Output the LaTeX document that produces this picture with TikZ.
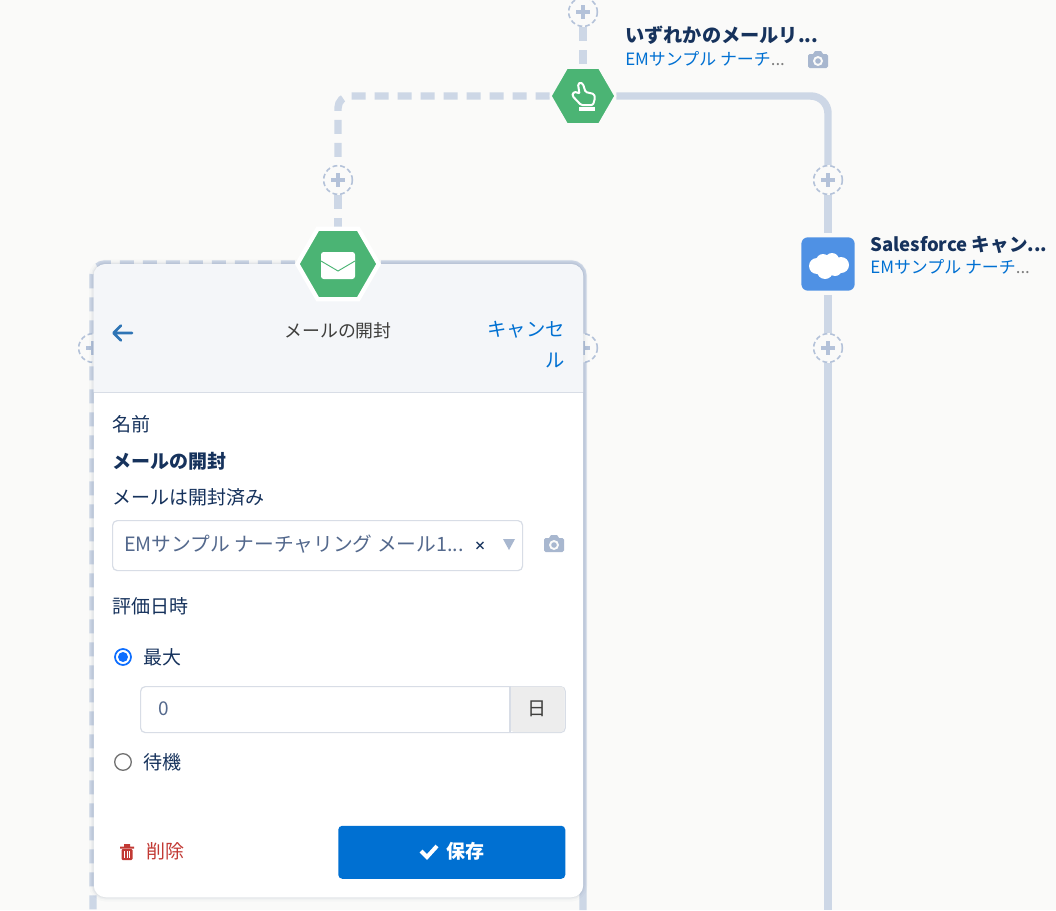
\documentclass[tikz,border=0pt]{standalone}
\usepackage{fontspec}
\setmainfont{Noto Sans CJK JP}
\usetikzlibrary{shapes.geometric}
\definecolor{bgc}{HTML}{FAFAF9}
\definecolor{linec}{HTML}{CDD7E6}
\definecolor{plusc}{HTML}{B4C2D9}
\definecolor{greenc}{HTML}{4BB474}
\definecolor{navy}{HTML}{16325C}
\definecolor{blue}{HTML}{0070D2}
\definecolor{slate}{HTML}{54698D}
\definecolor{iconc}{HTML}{A8B7CF}
\definecolor{hdr}{HTML}{F4F6F9}
\definecolor{rule}{HTML}{D8DDE6}
\definecolor{redc}{HTML}{C23934}
\definecolor{sfblue}{HTML}{4F91E4}
\definecolor{greyt}{HTML}{3E3E3C}
\definecolor{radioc}{HTML}{0D6EFF}
\definecolor{backc}{HTML}{2E74B5}
\pgfdeclarelayer{under}
\pgfsetlayers{under,main}
\tikzset{
  conn/.style={draw=linec,line width=5.6pt},
  dashconn/.style={conn,dash pattern=on 10.5pt off 6.75pt},
  plusnode/.style={circle,inner sep=0pt,minimum size=21.5pt,fill=bgc,draw=plusc,line width=1.2pt,dash pattern=on 3.6pt off 2.2pt,
    path picture={\draw[plusc,line width=2.8pt,solid] ([xshift=-5.2pt]path picture bounding box.center) -- ([xshift=5.2pt]path picture bounding box.center)
       ([yshift=-5.2pt]path picture bounding box.center) -- ([yshift=5.2pt]path picture bounding box.center);}},
  hexnode/.style={regular polygon,regular polygon sides=6,inner sep=0pt,fill=greenc},
  txt/.style={anchor=west,inner sep=0pt,text=navy,font=\fontsize{14.25}{17}\selectfont},
  sub/.style={anchor=west,inner sep=0pt,text=blue,font=\fontsize{12.7}{15}\selectfont},
  title/.style={txt,font=\bfseries\fontsize{14.4}{17}\selectfont},
  field/.style={draw=rule,line width=.9pt,fill=white,inner sep=0pt,rounded corners=3.5pt},
  camicon/.pic={
    \fill[iconc,rounded corners=1.2pt] (-10,-6) rectangle (10,8);
    \fill[iconc] (-5,-6) -- (-3,-9) -- (3,-9) -- (5,-6) -- cycle;
    \fill[bgc] (0,1) circle[radius=5];
    \fill[iconc] (0,1) circle[radius=2.8];
  }
}
\begin{document}
\begin{tikzpicture}[x=0.75pt,y=-0.75pt]
\useasboundingbox (0,0) rectangle (1056,910);
% ---- nodes under the panel
\node[plusnode] (p1) at (583,12) {};
\node[plusnode] (p2) at (338,180) {};
\node[plusnode] (p3) at (828,180) {};
\node[plusnode] (p4) at (828,348) {};
\node[plusnode] (p5) at (93,348) {};
\node[plusnode] (p6) at (583,348) {};
\coordinate (endL) at (93,910);
\coordinate (endR) at (583,910);
\coordinate (endS) at (828,910);
% ---- top decision node
\node[hexnode,minimum size=48.5pt,draw=bgc,line width=1.5pt] (hexA) at (583,96) {};
\draw[white,line width=1.5pt,line join=round,rounded corners=1pt]
  (578,84) -- (580.5,82.5) -- (583,84) -- (585.5,92) -- (594,94) -- (595,98) -- (593,105) -- (581,105) -- (572.5,96)
  -- (573,92.5) -- (577,92) -- (579.5,94) -- cycle;
\fill[white] (579,106.5) rectangle (594.5,111);
% ---- salesforce node
\node[draw=bgc,line width=3pt,fill=sfblue,rounded corners=6pt,minimum size=43pt,inner sep=0pt] (sf) at (828,264) {};
\fill[white] (817,266) circle[radius=8] (823,261) circle[radius=7] (832,260) circle[radius=7]
  (841,265) circle[radius=8] (825,271) circle[radius=8] (835,269) circle[radius=7];
% ---- panel
\foreach \w/\o in {9/.02,5/.03,2.5/.05}{
  \draw[navy,opacity=\o,line width=\w*0.75pt,rounded corners=9pt] (93.5,264) rectangle (583,897);
}
\node[fill=white,rounded corners=9pt,inner sep=0pt,minimum width=367.1pt,minimum height=474.75pt,anchor=north west] (panel) at (93.5,264) {};
\fill[hdr] (93.5,392) [rounded corners=9pt] -- (93.5,264) -- (583,264) [sharp corners] -- (583,392) -- cycle;
\draw[rule,line width=.6pt] (93.5,392) -- (583,392);
% ---- mail node
\node[hexnode,minimum size=61pt,draw=white,line width=3.2pt] (hexB) at (338,264) {};
\fill[white,rounded corners=2pt] (321,252) rectangle (355,279);
\draw[greenc,line width=.7pt] (321,261) -- (338,271) -- (355,261);
% ---- texts outside panel
\node[title] (t1) at (625,35.5) {いずれかのメールリ...};
\node[sub] (s1) at (625,59) {EMサンプル ナーチ\textcolor{gray}{...}};
\pic at (818,60) {camicon};
\node[title,font=\bfseries\fontsize{13.9}{17}\selectfont] (t2) at (870,244.5) {Salesforce キャン...};
\node[sub] (s2) at (870,267) {EMサンプル ナーチ\textcolor{gray}{...}};
% ---- header
\draw[backc,line width=1.9pt,line cap=round,line join=round] (114,333) -- (132,333) (121,325.5) -- (113.5,333) -- (121,340.5);
\node[anchor=center,inner sep=0pt,text=greyt,font=\fontsize{13.4}{15}\selectfont] (h) at (338,331) {メールの開封};
\node[anchor=east,inner sep=0pt,text=blue,font=\fontsize{14.5}{17}\selectfont] (c1) at (565,330) {キャンセ};
\node[anchor=east,inner sep=0pt,text=blue,font=\fontsize{14.5}{17}\selectfont] (c2) at (565,360) {ル};
% ---- body
\node[txt] (l1) at (112,424) {名前};
\node[txt,font=\bfseries\fontsize{14.25}{17}\selectfont] (l2) at (112,461) {メールの開封};
\node[txt] (l3) at (112,497) {メールは開封済み};
\node[field,minimum width=307.5pt,minimum height=37.5pt,anchor=north west] (sel) at (112,520) {};
\node[txt,text=slate,font=\fontsize{14.8}{17}\selectfont] (seltxt) at (124,544) {EMサンプル ナーチャリング メール1...};
\node[anchor=center,inner sep=0pt,text=navy,font=\bfseries\fontsize{9}{10}\selectfont] (x) at (480,546) {×};
\fill[iconc] (503,539) -- (515,539) -- (509,550) -- cycle;
\pic at (554,544) {camicon};
\node[txt] (l4) at (112,606) {評価日時};
\draw[radioc,line width=1.3pt] (123,657) circle[radius=8];
\fill[radioc] (123,657) circle[radius=5];
\node[txt] (r1) at (143,657) {最大};
\node[field,minimum width=318.5pt,minimum height=34.5pt,anchor=north west,draw=rule] (num) at (140,686) {};
\fill[fill=black!7,rounded corners=3pt] (510,686.5) -- (564.5,686.5) -- (564.5,732) -- (510,732) [sharp corners] -- cycle;
\draw[rule,line width=.8pt] (510,686) -- (510,732);
\node[anchor=center,inner sep=0pt,text=greyt,font=\fontsize{14.25}{17}\selectfont] (unit) at (537,709) {日};
\node[txt,text=slate] (zero) at (158,709) {0};
\draw[black!55,line width=1pt] (123,762) circle[radius=8.3];
\node[txt] (r2) at (143,762) {待機};
% ---- footer
\fill[redc,rounded corners=.8pt] (121.5,849) rectangle (132.5,860);
\fill[redc] (120,846.5) rectangle (134,848.5) (124,844) rectangle (130,847);
\draw[white,line width=.7pt] (124.5,851) -- (124.5,858) (127,851) -- (127,858) (129.5,851) -- (129.5,858);
\node[txt,text=redc] (del) at (146,851.5) {削除};
\node[fill=blue,rounded corners=3pt,minimum width=170.25pt,minimum height=39.75pt,inner sep=0pt,anchor=north west] (save) at (338,825.5) {};
\draw[white,line width=3pt] (421,851) -- (427,857) -- (437,846);
\node[txt,text=white,font=\bfseries\fontsize{14.25}{17}\selectfont] (savet) at (446,851.5) {保存};
% ---- connectors
\begin{pgfonlayer}{under}
\fill[bgc] (0,0) rectangle (1056,910);
\draw[dashconn] (p1) -- (hexA);
\draw[dashconn,rounded corners=9pt] (hexA) -| (p2);
\draw[dashconn] (p2) -- (hexB);
\draw[conn,rounded corners=13pt] (hexA) -| (p3);
\draw[conn] (p3) -- (sf);
\draw[conn] (sf) -- (p4);
\draw[conn] (p4) -- (endS);
\draw[dashconn,rounded corners=9pt] (hexB) -| (endL);
\draw[conn,rounded corners=9pt] (hexB) -| (endR);
\end{pgfonlayer}
\end{tikzpicture}
\end{document}
